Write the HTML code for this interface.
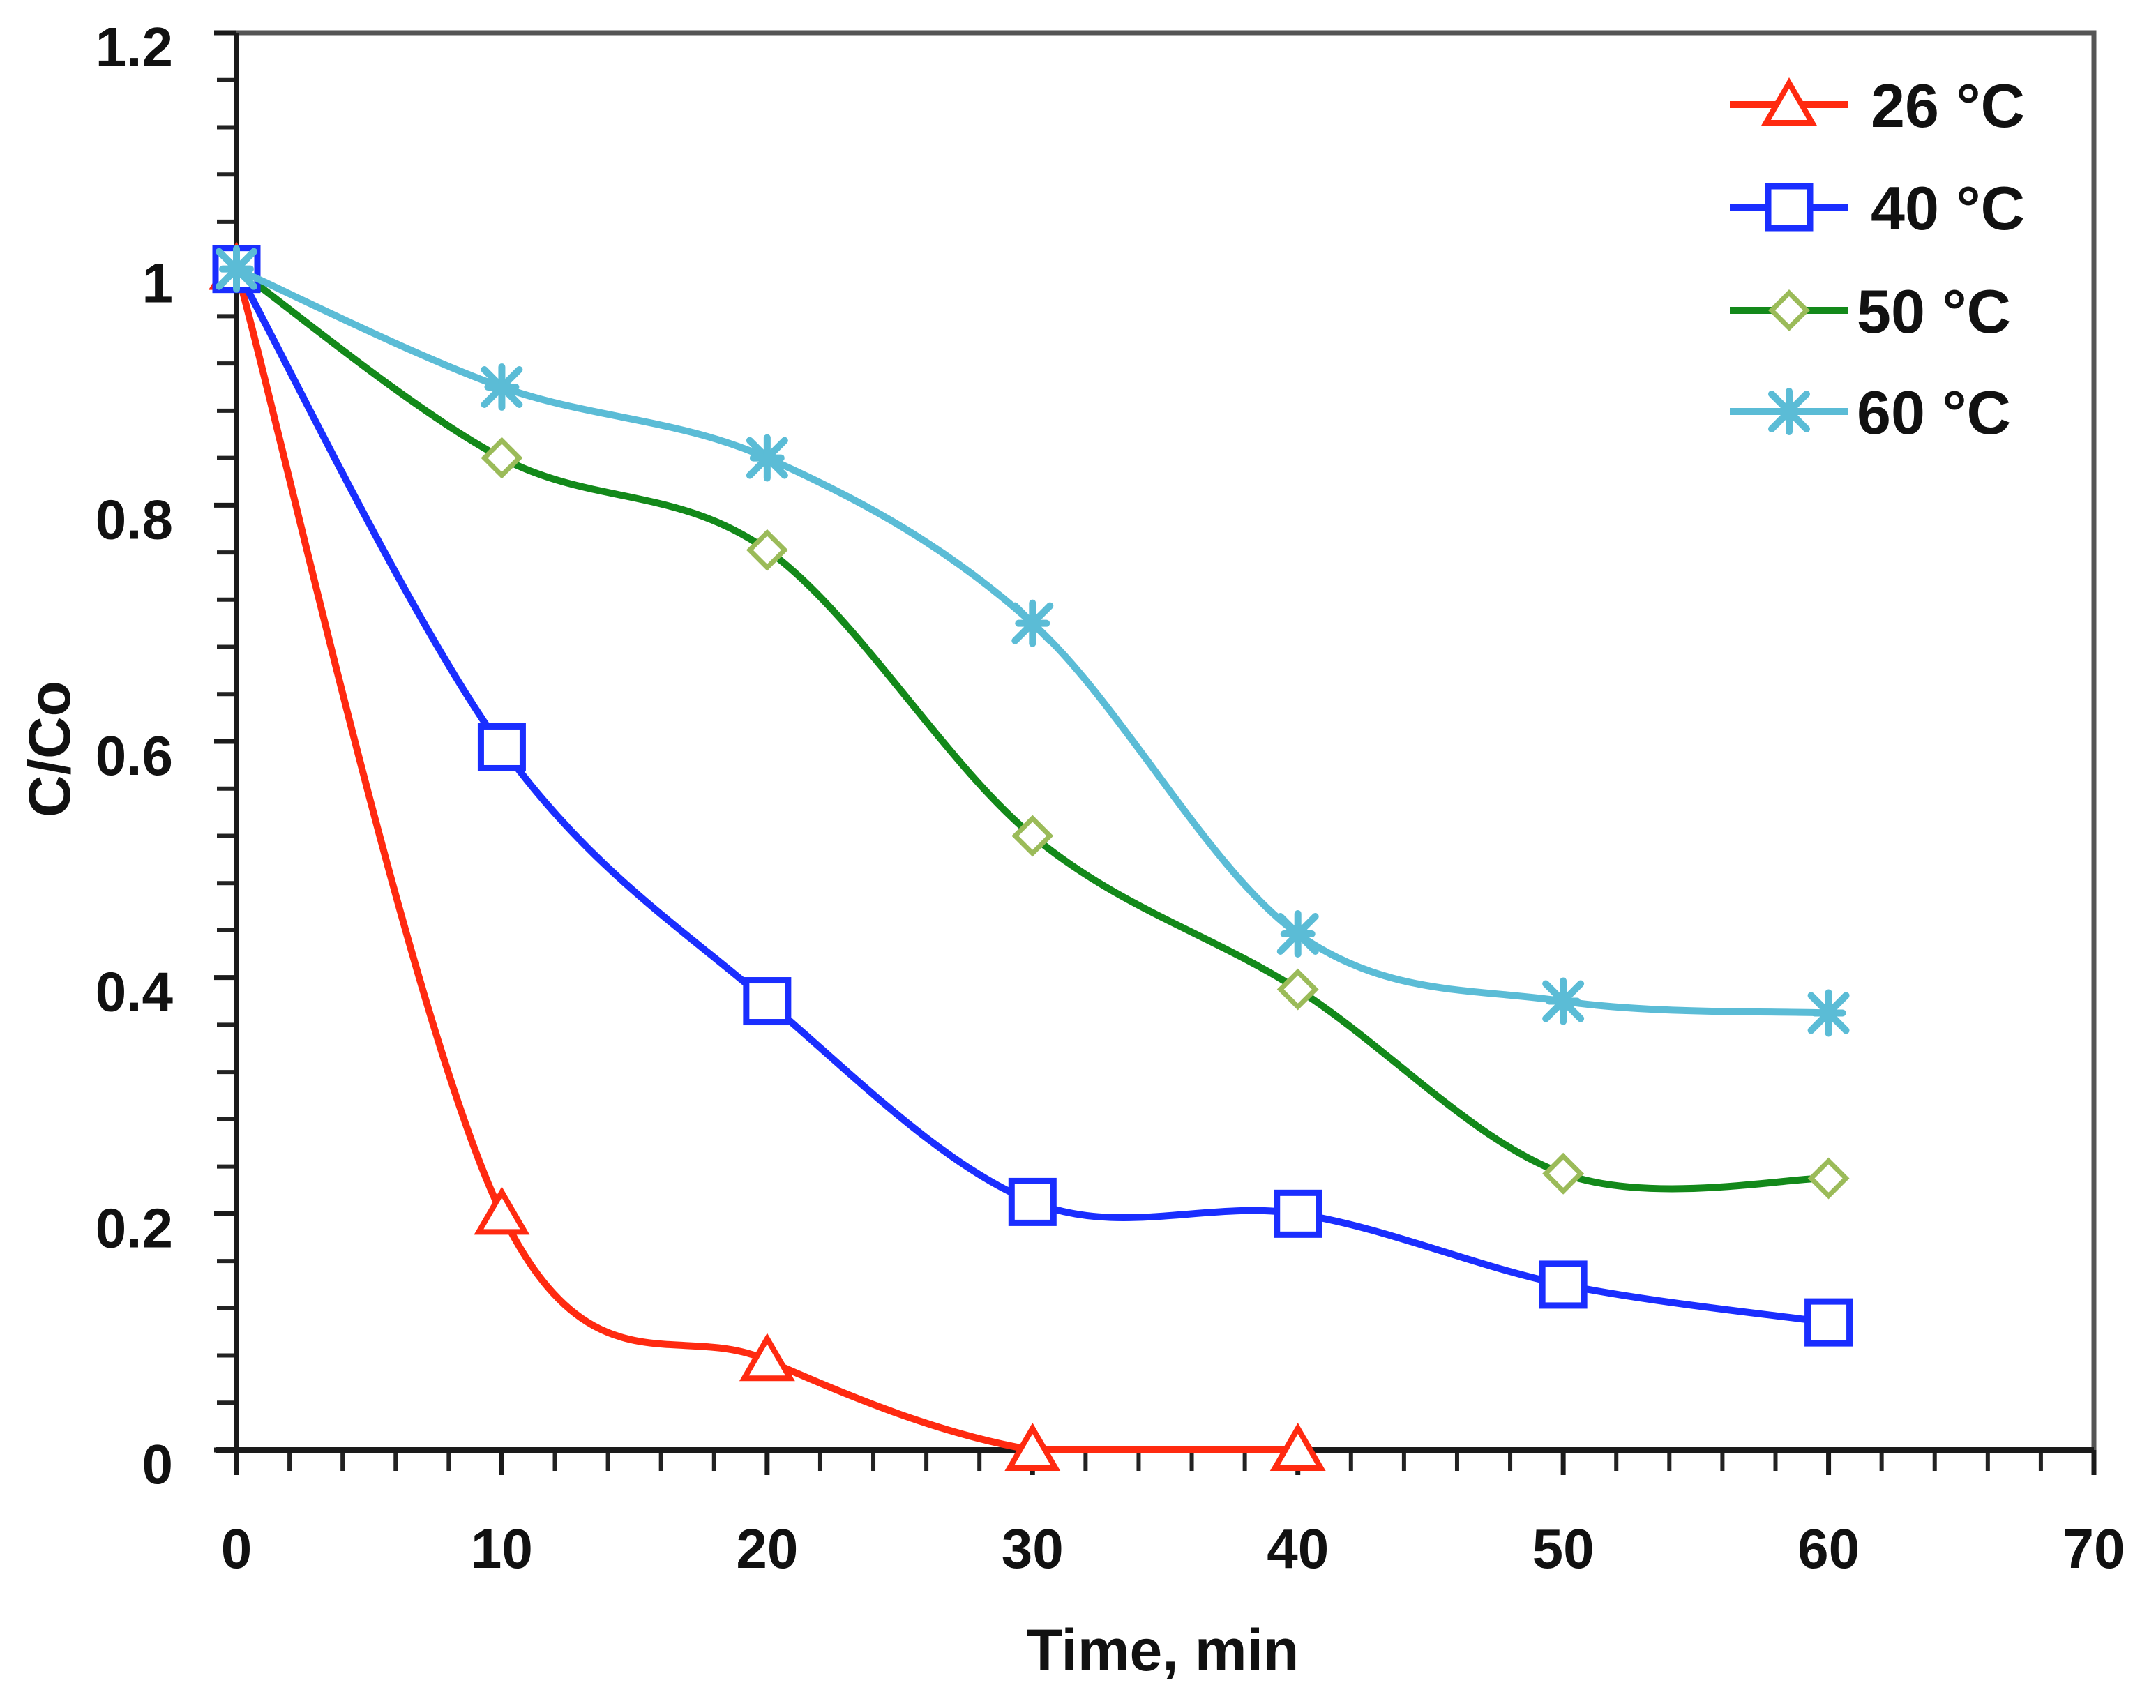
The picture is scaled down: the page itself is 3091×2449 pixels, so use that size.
<!DOCTYPE html>
<html><head><meta charset="utf-8"><style>
html,body{margin:0;padding:0;background:#fff;}
svg{display:block;}
text{font-family:"Liberation Sans",sans-serif;font-weight:bold;fill:#111;}
</style></head><body>
<svg id="chart" width="3091" height="2449" viewBox="0 0 3091 2449" xmlns="http://www.w3.org/2000/svg">
<g id="axes"></g>
<g id="series"></g>
<g id="legend"></g>
<text x="1667" y="2395" font-size="84" text-anchor="middle">Time, min</text>
<text x="0" y="0" font-size="84" text-anchor="middle" transform="translate(100,1074) rotate(-90)">C/Co</text>
</svg>
<script>
const times = [0, 10, 20, 30, 40, 50, 60];
const series26 = [1, 0.2, 0.076, 0, 0];
const series40 = [1, 0.595, 0.38, 0.21, 0.2, 0.14, 0.108];
const series50 = [1, 0.84, 0.762, 0.52, 0.39, 0.234, 0.23];
const series60 = [1, 0.9, 0.84, 0.70, 0.437, 0.38, 0.37];
const seriesNames = ["26 °C", "40 °C", "50 °C", "60 °C"];
const xTicks = [0, 10, 20, 30, 40, 50, 60, 70];
const yTicks = [0, 0.2, 0.4, 0.6, 0.8, 1, 1.2];

const NS = "http://www.w3.org/2000/svg";
const L = 339, R = 3002, T = 47, B = 2079;
const xMin = 0, xMax = 70, yMin = 0, yMax = 1.2;
function xs(v){ return L + (v - xMin) / (xMax - xMin) * (R - L); }
function ys(v){ return B - (v - yMin) / (yMax - yMin) * (B - T); }
function mk(tag, attrs, parent){
  const e = document.createElementNS(NS, tag);
  for (const k in attrs) e.setAttribute(k, attrs[k]);
  parent.appendChild(e);
  return e;
}
const axes = document.getElementById("axes");
let fr = mk("path", {d:`M${L},${T} L${R},${T} L${R},${B}`, fill:"none", stroke:"#555", "stroke-width":7}, axes);


for (let v = 0; v <= 1.2001; v += 0.04) {
  const y = ys(v);
  const t = mk("line", {x1:L-28, x2:L, y1:y, y2:y, stroke:"#222", "stroke-width":6}, axes);
  
  
}
for (let v = 0; v <= 70.001; v += 2) {
  const x = xs(v);
  const t = mk("line", {x1:x, x2:x, y1:B, y2:B+30, stroke:"#222", "stroke-width":6}, axes);
  
  
}
let ya = mk("line", {x1:L, x2:L, y1:T, y2:B, stroke:"#1a1a1a", "stroke-width":7}, axes);


let xa = mk("line", {x1:L-30, x2:R, y1:B, y2:B, stroke:"#1a1a1a", "stroke-width":8}, axes);


yTicks.forEach(v => {
  const tk = mk("line", {x1:L-32, x2:L, y1:ys(v), y2:ys(v), stroke:"#1a1a1a", "stroke-width":7}, axes);
  
  
  const t = mk("text", {x:248, y:ys(v)+48, "font-size":80, "text-anchor":"end"}, axes);
  t.textContent = String(v);
  
  
});
xTicks.forEach(v => {
  const tk = mk("line", {x1:xs(v), x2:xs(v), y1:B, y2:B+36, stroke:"#1a1a1a", "stroke-width":7}, axes);
  
  
  const t = mk("text", {x:xs(v), y:2248, "font-size":80, "text-anchor":"middle"}, axes);
  t.textContent = String(v);
  
  
});

function smoothPath(pts){
  let d = `M${pts[0][0]},${pts[0][1]}`;
  const k = 1/6;
  for (let i = 0; i < pts.length - 1; i++) {
    const p0 = pts[Math.max(0,i-1)], p1 = pts[i], p2 = pts[i+1], p3 = pts[Math.min(pts.length-1,i+2)];
    let c1 = [p1[0] + (p2[0]-p0[0])*k, p1[1] + (p2[1]-p0[1])*k];
    let c2 = [p2[0] - (p3[0]-p1[0])*k, p2[1] - (p3[1]-p1[1])*k];
    if (p1[1] === p2[1]) { c1[1] = p1[1]; c2[1] = p2[1]; }
    const lo = Math.min(p1[1], p2[1]), hi = Math.max(p1[1], p2[1]);
    if (p2[1] === hi && (p3 === p2 || p3[1] === p2[1])) c2[1] = Math.min(c2[1], hi);
    d += ` C${c1[0]},${c1[1]} ${c2[0]},${c2[1]} ${p2[0]},${p2[1]}`;
  }
  return d;
}
function marker(type, x, y, parent, stroke){
  let e;
  if (type === "tri") e = mk("path", {d:`M${x},${y-31} L${x+33},${y+26} L${x-33},${y+26} Z`, fill:"#fff", stroke:stroke, "stroke-width":8}, parent);
  else if (type === "sq") e = mk("rect", {x:x-30, y:y-30, width:60, height:60, fill:"#fff", stroke:stroke, "stroke-width":9}, parent);
  else if (type === "dia") e = mk("path", {d:`M${x},${y-25} L${x+25},${y} L${x},${y+25} L${x-25},${y} Z`, fill:"#fff", stroke:"#9bbb59", "stroke-width":7}, parent);
  else {
    e = mk("g", {stroke:stroke, "stroke-width":10, "stroke-linecap":"round"}, parent);
    mk("line", {x1:x-25, y1:y-25, x2:x+25, y2:y+25}, e);
    mk("line", {x1:x-25, y1:y+25, x2:x+25, y2:y-25}, e);
    mk("line", {x1:x, y1:y-29, x2:x, y2:y+29}, e);
    mk("line", {x1:x-20, y1:y, x2:x+20, y2:y}, e);
  }
  return e;
}
const defs = [
  {vals:series26, color:"#ff2a10", m:"tri", name:"series-26c"},
  {vals:series40, color:"#1a2eff", m:"sq", name:"series-40c"},
  {vals:series50, color:"#13891a", m:"dia", name:"series-50c"},
  {vals:series60, color:"#5bbcd6", m:"star", name:"series-60c"}
];
const sg = document.getElementById("series");
[0,2,1,3].forEach(i => {
  const s = defs[i];
  const g = mk("g", {}, sg);
  
  
  const pts = s.vals.map((v, j) => [xs(times[j]), ys(v)]);
  const p = mk("path", {d:smoothPath(pts), fill:"none", stroke:s.color, "stroke-width":10}, g);
  
  
  pts.forEach(pt => {
    const m = marker(s.m, pt[0], pt[1], g, s.color);
    
    
  });
});
const lg = document.getElementById("legend");
const rowsY = [150, 297, 445, 590];
const textX = [2682, 2682, 2662, 2662];
defs.forEach((s, i) => {
  const g = mk("g", {}, lg);
  
  
  mk("line", {x1:2480, x2:2650, y1:rowsY[i], y2:rowsY[i], stroke:s.color, "stroke-width":10}, g);
  marker(s.m, 2565, rowsY[i], g, s.color);
  const t = mk("text", {x:textX[i], y:rowsY[i]+32, "font-size":88}, g);
  t.textContent = seriesNames[i];
  
  
});
</script>
</body></html>
